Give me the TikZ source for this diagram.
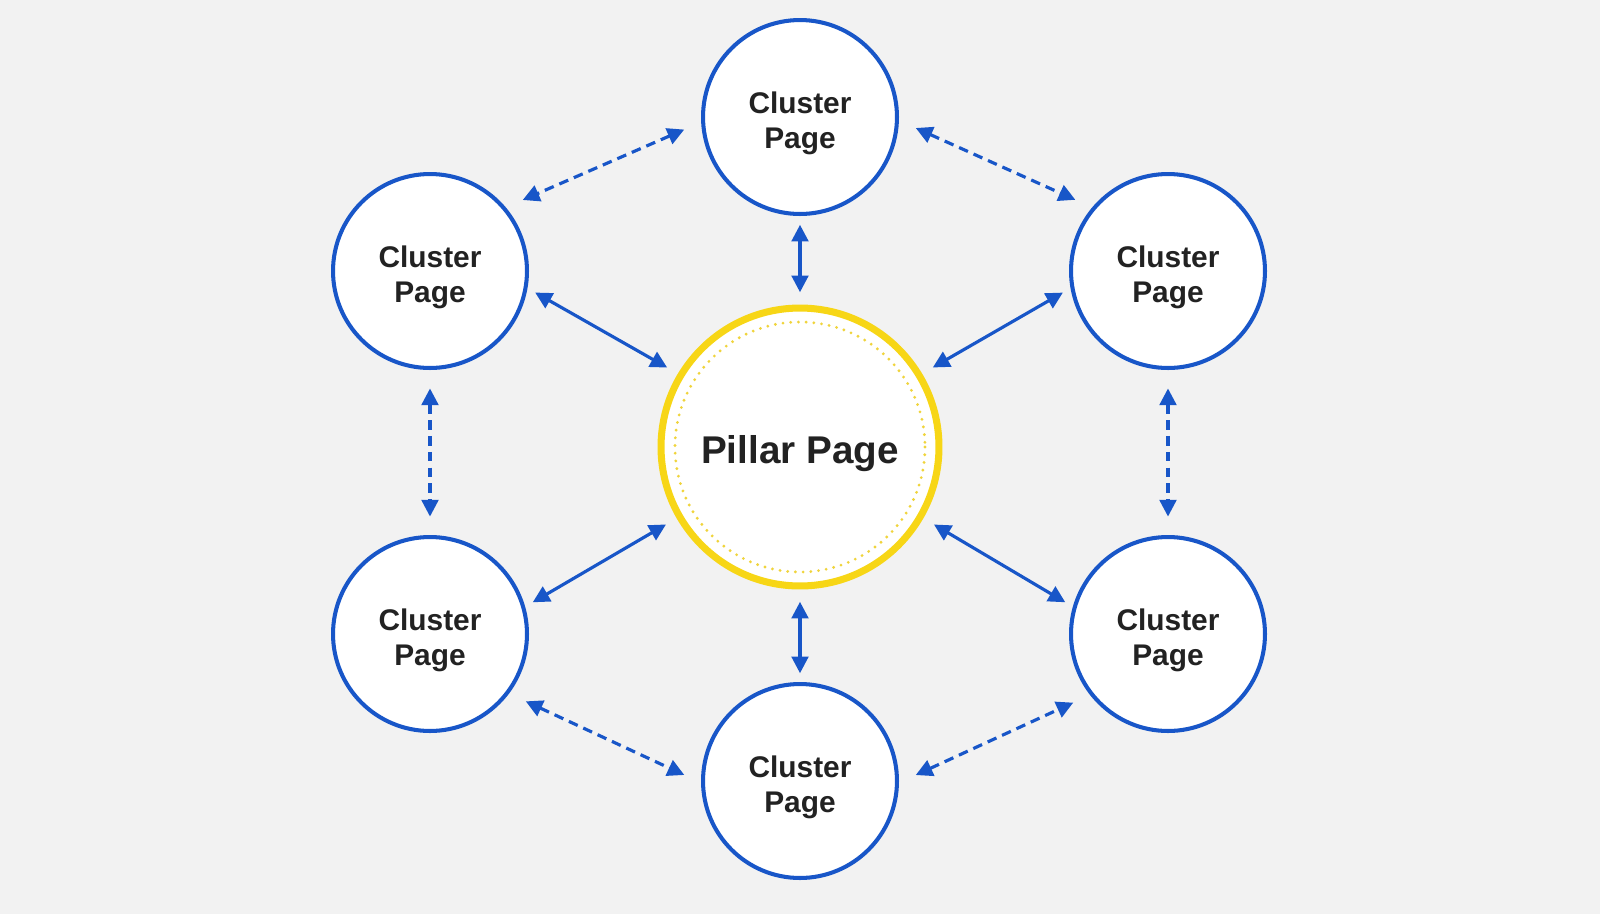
\documentclass[tikz,border=0pt]{standalone}
\usepackage{fontspec}
\setmainfont{Liberation Sans}
\usepackage{tikz}
\usetikzlibrary{arrows.meta}
\definecolor{linkblue}{RGB}{24,86,200}
\definecolor{pillaryellow}{RGB}{247,214,22}
\definecolor{dotyellow}{RGB}{240,212,60}
\definecolor{bggray}{RGB}{242,242,242}
\definecolor{inkgray}{RGB}{34,34,34}
\newcommand{\clusterlabel}{\raisebox{-4pt}[\height][\depth]{\begin{tabular}{@{}c@{}}Cluster\\Page\end{tabular}}}

\begin{document}
\begin{tikzpicture}[x=0.02cm,y=-0.02cm,>={Triangle[length=9.5pt,width=9.5pt]},
  cluster/.style={circle,draw=linkblue,line width=2.3pt,fill=white,minimum size=3.88cm,
    inner sep=0pt,text=inkgray,font=\fontsize{17}{20}\selectfont\bfseries},
  pillar/.style={circle,draw=pillaryellow,line width=4pt,fill=white,minimum size=5.56cm,
    inner sep=0pt,text=inkgray,font=\fontsize{22}{26}\selectfont\bfseries},
  link/.style={<->,linkblue,line width=1.8pt,shorten <=5pt,shorten >=7pt},
  peer/.style={<->,linkblue,line width=1.8pt,dash pattern=on 5.5pt off 3.5pt,shorten <=10.5pt,shorten >=10.5pt}]
  \fill[bggray] (0,0) rectangle (1600,914);
  \useasboundingbox (0,0) rectangle (1600,914);
  % hub
  \node[pillar] (pillar) at (800,447) {\raisebox{-3.5pt}[\height][\depth]{Pillar Page}};
  \draw[dotyellow,line width=1.8pt,line cap=round,dash pattern=on 0pt off 4.4pt] (pillar.center) circle[radius=125];
  % clusters
  \node[cluster] (top) at (800,117) {\clusterlabel};
  \node[cluster] (upleft) at (430,271) {\clusterlabel};
  \node[cluster] (upright) at (1168,271) {\clusterlabel};
  \node[cluster] (lowleft) at (430,634) {\clusterlabel};
  \node[cluster] (lowright) at (1168,634) {\clusterlabel};
  \node[cluster] (bottom) at (800,781) {\clusterlabel};
  % hub links
  \draw[link] (top) -- (pillar);
  \draw[link] (bottom) -- (pillar);
  \draw[link] (upleft.-10) -- (pillar.149);
  \draw[link] (upright.190) -- (pillar.31);
  \draw[link] (lowleft.16) -- (pillar.210);
  \draw[link] (lowright.164) -- (pillar.330);
  % links between clusters
  \draw[peer] (top.183) -- (upleft.40);
  \draw[peer] (top.-2) -- (upright.140);
  \draw[peer] (upleft) -- (lowleft);
  \draw[peer] (upright) -- (lowright);
  \draw[peer] (lowleft.-37) -- (bottom.181);
  \draw[peer] (bottom.-1) -- (lowright.218);
\end{tikzpicture}
\end{document}
